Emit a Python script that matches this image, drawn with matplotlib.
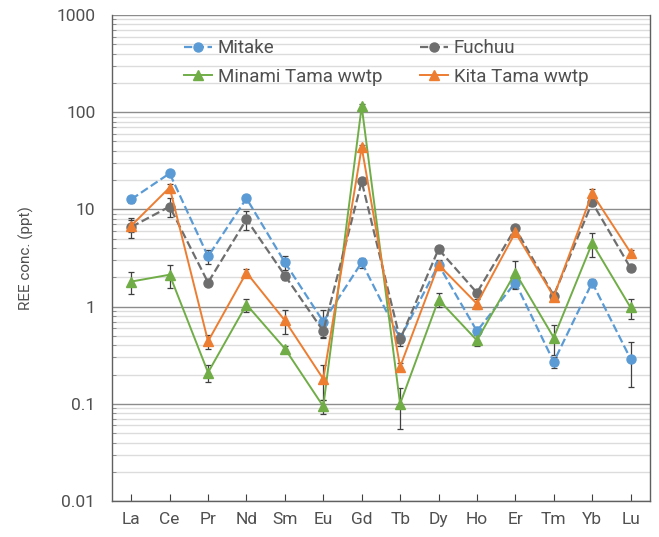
import matplotlib.pyplot as plt
import numpy as np
from matplotlib.lines import Line2D
from matplotlib.ticker import LogLocator, FuncFormatter, NullFormatter

plt.rcParams['font.family'] = ['Roboto', 'DejaVu Sans']

elements = ['La', 'Ce', 'Pr', 'Nd', 'Sm', 'Eu', 'Gd', 'Tb', 'Dy', 'Ho', 'Er', 'Tm', 'Yb', 'Lu']

# values (ppt) and error bar half-widths
mitake     = [12.7, 23.5, 3.28, 13.0, 2.85, 0.70, 2.85, 0.47, 2.7, 0.56, 1.77, 0.27, 1.77, 0.29]
mitake_err = [1.0, 1.5, 0.55, 1.2, 0.45, 0.23, 0.35, 0.05, 0.3, 0.05, 0.25, 0.035, 0.15, 0.14]

fuchuu     = [6.6, 10.7, 1.77, 7.9, 2.09, 0.56, 19.4, 0.46, 3.9, 1.39, 6.4, 1.3, 11.8, 2.5]
fuchuu_err = [1.5, 2.4, 0.12, 1.7, 0.2, 0.07, 1.2, 0.07, 0.3, 0.08, 0.4, 0.08, 0.9, 0.15]

minami     = [1.81, 2.13, 0.21, 1.05, 0.37, 0.094, 115, 0.10, 1.18, 0.45, 2.24, 0.48, 4.5, 0.98]
minami_err = [0.45, 0.57, 0.043, 0.16, 0.025, 0.016, 6, 0.045, 0.2, 0.06, 0.7, 0.16, 1.25, 0.23]

kita       = [6.8, 16.8, 0.44, 2.24, 0.72, 0.18, 43.6, 0.24, 2.7, 1.07, 5.8, 1.27, 14.6, 3.6]
kita_err   = [1.0, 1.3, 0.07, 0.2, 0.2, 0.07, 2.5, 0.02, 0.25, 0.13, 0.4, 0.1, 1.5, 0.25]

x = np.arange(len(elements))

fig = plt.figure(figsize=(6.59, 5.37), dpi=100)
ax = fig.add_axes([0.170, 0.067, 0.816, 0.905])

ax.set_yscale('log')
ax.set_ylim(0.01, 1000)
ax.set_xlim(-0.5, len(elements) - 0.5)

# grid
ax.yaxis.set_major_locator(LogLocator(base=10, numticks=10))
ax.yaxis.set_minor_locator(LogLocator(base=10, subs=np.arange(2, 10), numticks=20))
ax.yaxis.set_minor_formatter(NullFormatter())
ax.yaxis.set_major_formatter(FuncFormatter(lambda v, p: ('%g' % v)))
ax.grid(True, which='minor', axis='y', color='#dcdcdc', lw=1.0, zorder=0)
ax.grid(True, which='major', axis='y', color='#8c8c8c', lw=1.0, zorder=0)
ax.set_axisbelow(True)

ebar = dict(ecolor='#404040', elinewidth=0.9, capsize=2.5, capthick=0.9)

series = [
    (mitake, mitake_err, '#5b9bd5', '--', 'o', 'Mitake'),
    (minami, minami_err, '#70ad47', '-', '^', 'Minami Tama wwtp'),
    (fuchuu, fuchuu_err, '#6e6e6e', '--', 'o', 'Fuchuu'),
    (kita, kita_err, '#ed7d31', '-', '^', 'Kita Tama wwtp'),
]

handles = []
for vals, err, col, ls, mk, lab in series:
    lw = 1.6 if ls == '--' else 1.4
    ms = 6.5 if mk == 'o' else 7
    ax.errorbar(x, vals, yerr=err, color=col, ls=ls, lw=lw, marker=mk, ms=ms,
                zorder=3, **ebar)
    handles.append(Line2D([], [], color=col, ls=ls, lw=lw, marker=mk, ms=ms, label=lab))

ax.set_xticks(x)
ax.set_xticklabels(elements)
ax.tick_params(axis='x', which='major', length=5, direction='in', color='#404040',
               labelsize=12.5, labelcolor='#505050', pad=8)
ax.tick_params(axis='y', which='major', length=0, labelsize=12.5, labelcolor='#505050', pad=12)
ax.tick_params(axis='y', which='minor', length=3, direction='in', color='#808080')

for s in ['left', 'bottom', 'right']:
    ax.spines[s].set_color('#606060')
    ax.spines[s].set_linewidth(1.0)
ax.spines['top'].set_visible(False)

ax.set_ylabel('REE conc. (ppt)', fontsize=11, color='#505050', labelpad=16)

leg = ax.legend(handles=handles, ncol=2, loc='upper center', bbox_to_anchor=(0.51, 0.985),
                frameon=False, fontsize=13.5, columnspacing=2.0, handlelength=1.5,
                handletextpad=0.3, labelspacing=0.55, labelcolor='#505050')

fig.savefig('out.png', dpi=100)
